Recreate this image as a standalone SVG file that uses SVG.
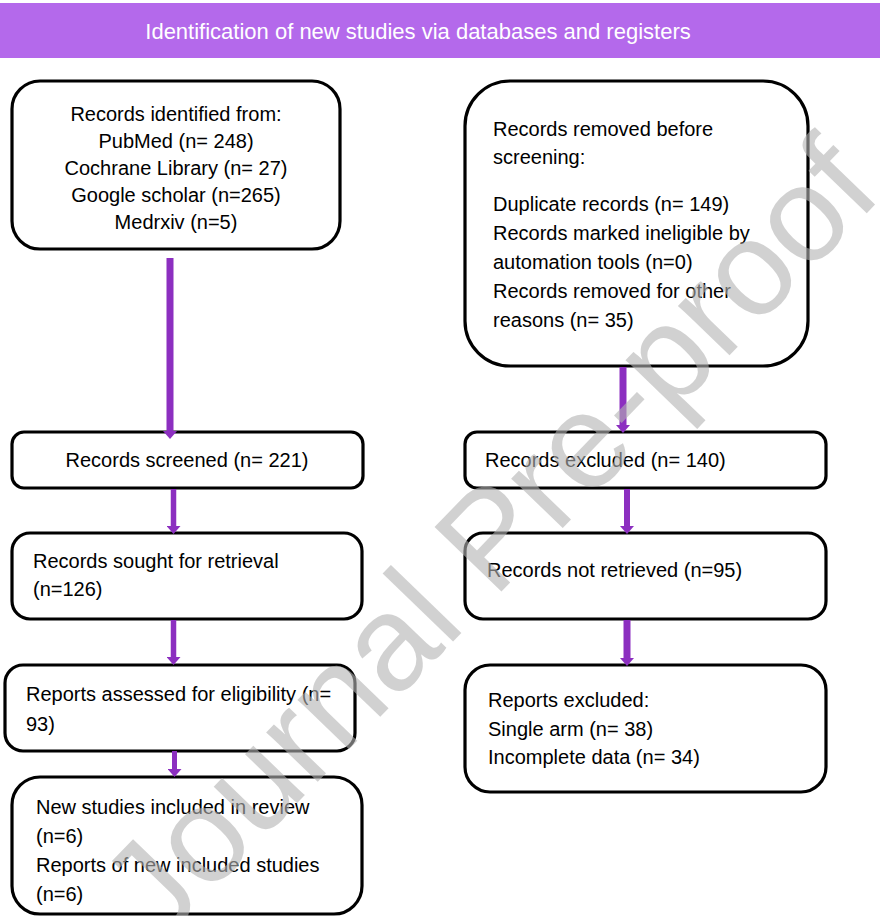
<svg xmlns="http://www.w3.org/2000/svg" width="880" height="916" viewBox="0 0 880 916">
<style>
.box{fill:#ffffff;stroke:#000000;stroke-width:3.2}
.t{font-family:"Liberation Sans",Arial,sans-serif;font-size:20px;fill:#000000}
.c{text-anchor:middle}
.hdr{font-family:"Liberation Sans",Arial,sans-serif;font-size:22px;fill:#ffffff;text-anchor:middle}
.arr{stroke:#8c2fc0;fill:none}
.wm{font-family:"Liberation Sans",Arial,sans-serif;font-size:135px;fill:#b4b4b4;opacity:0.6}
</style>
<defs>
<marker id="ah" markerUnits="userSpaceOnUse" viewBox="0 0 8 14" markerWidth="8" markerHeight="14" refX="0" refY="7" orient="auto">
<path d="M0,0 L8,7 L0,14 z" fill="#8c2fc0"/>
</marker>
</defs>
<rect width="880" height="916" fill="#ffffff"/>
<g id="header">
<rect x="0" y="3" width="880" height="55" fill="#b469eb"/>
<text class="hdr" x="418" y="39">Identification of new studies via databases and registers</text>
</g>
<g id="identified">
<rect class="box" x="12" y="81" width="328" height="168" rx="28"/>
<text class="t c" x="176" y="121">Records identified from:</text>
<text class="t c" x="176" y="148">PubMed (n= 248)</text>
<text class="t c" x="176" y="175">Cochrane Library (n= 27)</text>
<text class="t c" x="176" y="202">Google scholar (n=265)</text>
<text class="t c" x="176" y="229">Medrxiv (n=5)</text>
</g>
<g id="removed">
<rect class="box" x="465" y="81" width="343" height="285" rx="45"/>
<text class="t" x="493" y="136">Records removed before</text>
<text class="t" x="493" y="164">screening:</text>
<text class="t" x="493" y="211">Duplicate records (n= 149)</text>
<text class="t" x="493" y="240">Records marked ineligible by</text>
<text class="t" x="493" y="269">automation tools (n=0)</text>
<text class="t" x="493" y="298">Records removed for other</text>
<text class="t" x="493" y="327">reasons (n= 35)</text>
</g>
<g id="screened">
<rect class="box" x="12" y="432" width="351" height="56" rx="12"/>
<text class="t c" x="187" y="467">Records screened (n= 221)</text>
</g>
<g id="excluded">
<rect class="box" x="465" y="432" width="361" height="56" rx="12"/>
<text class="t" x="485" y="467">Records excluded (n= 140)</text>
</g>
<g id="sought">
<rect class="box" x="12" y="533" width="350" height="86" rx="18"/>
<text class="t" x="33" y="568">Records sought for retrieval</text>
<text class="t" x="33" y="596">(n=126)</text>
</g>
<g id="notretrieved">
<rect class="box" x="465" y="533" width="361" height="86" rx="18"/>
<text class="t" x="487" y="577">Records not retrieved (n=95)</text>
</g>
<g id="assessed">
<rect class="box" x="5" y="665" width="350" height="86" rx="18"/>
<text class="t" x="26" y="701">Reports assessed for eligibility (n=</text>
<text class="t" x="26" y="731">93)</text>
</g>
<g id="reportsexcluded">
<rect class="box" x="465" y="665" width="361" height="127" rx="25"/>
<text class="t" x="488" y="707">Reports excluded:</text>
<text class="t" x="488" y="736">Single arm (n= 38)</text>
<text class="t" x="488" y="764">Incomplete data (n= 34)</text>
</g>
<g id="included">
<rect class="box" x="12" y="777" width="350" height="137" rx="28"/>
<text class="t" x="36" y="814">New studies included in review</text>
<text class="t" x="36" y="843">(n=6)</text>
<text class="t" x="36" y="872">Reports of new included studies</text>
<text class="t" x="36" y="901">(n=6)</text>
</g>
<g id="connectors">
<line class="arr" x1="170" y1="258" x2="170" y2="431" stroke-width="7" marker-end="url(#ah)"/>
<line class="arr" x1="623" y1="367" x2="623" y2="425" stroke-width="7" marker-end="url(#ah)"/>
<line class="arr" x1="173.5" y1="489" x2="173.5" y2="526" stroke-width="5.5" marker-end="url(#ah)"/>
<line class="arr" x1="627" y1="489" x2="627" y2="526" stroke-width="6" marker-end="url(#ah)"/>
<line class="arr" x1="173.5" y1="620" x2="173.5" y2="657" stroke-width="5.5" marker-end="url(#ah)"/>
<line class="arr" x1="627" y1="620" x2="627" y2="658" stroke-width="7" marker-end="url(#ah)"/>
<line class="arr" x1="174.5" y1="751" x2="174.5" y2="769" stroke-width="5" marker-end="url(#ah)"/>
</g>
<g id="watermark">
<text class="wm" transform="translate(160,945) rotate(-46)">Journal Pre-proof</text>
</g>
</svg>
